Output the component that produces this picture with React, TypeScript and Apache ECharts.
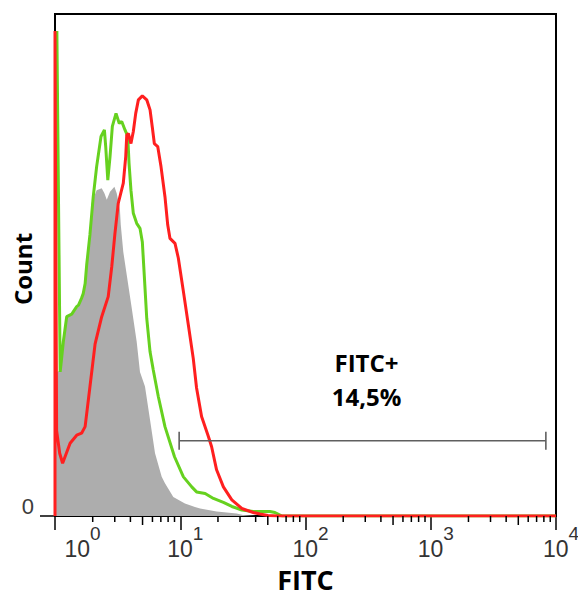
import React, { useEffect, useRef } from 'react';
import * as echarts from 'echarts';

// Axis ranges
const X_MIN = 1;
const X_MAX = 10000;
const Y_MIN = 0;
const Y_MAX = 1000;

// Tick definitions
const DECADES = [1, 10, 100, 1000];
const MINOR_MULTIPLIERS = [2, 3, 4, 5, 6, 7, 8, 9];
const Y_TICK_VALUES = [0];

// Histograms: [FITC intensity, count]
const UNSTAINED: [number, number][] = [
  [1.0, 285], [1.1, 290], [1.165, 345], [1.24, 395], [1.36, 400], [1.54, 418], [1.68, 440],
  [1.74, 460], [1.79, 495], [1.9, 560], [1.96, 623], [2.15, 649], [2.36, 653], [2.48, 643],
  [2.59, 630], [2.75, 646], [2.98, 656], [3.11, 643], [3.3, 610], [3.35, 580], [3.51, 526],
  [3.74, 480], [4.1, 414], [4.49, 347], [4.77, 287], [5.23, 258], [5.74, 191], [6.29, 125],
  [7.11, 78], [7.55, 65], [8.8, 38], [10.9, 25], [13.1, 18], [14.4, 15], [19.5, 9],
  [28.2, 5], [31.7, 2], [40, 0],
];

const GREEN_SAMPLE: [number, number][] = [
  [1.035, 966], [1.1, 287], [1.165, 347], [1.24, 397], [1.36, 402], [1.49, 417], [1.54, 420],
  [1.63, 434], [1.68, 443], [1.74, 463], [1.79, 500], [1.9, 560], [2.02, 636], [2.15, 696],
  [2.33, 756], [2.48, 769], [2.54, 736], [2.64, 669], [2.75, 716], [2.87, 776], [3.07, 802],
  [3.26, 782], [3.41, 786], [3.62, 769], [3.81, 756], [3.9, 703], [4.04, 649], [4.22, 603],
  [4.49, 583], [4.77, 573], [4.98, 546], [5.16, 480], [5.4, 394], [5.74, 327], [6.09, 291],
  [6.68, 238], [7.55, 178], [9.0, 118], [10.6, 78], [12.35, 58], [13.5, 48], [15.8, 45],
  [18.4, 35], [22.1, 27], [25.8, 19], [31.0, 12], [38.3, 9], [52, 9], [57, 7], [65, 0],
  [10000, 0],
];

const RED_SAMPLE: [number, number][] = [
  [1.0, 0], [1.0, 966], [1.03, 170], [1.09, 125], [1.15, 105], [1.32, 145], [1.49, 161],
  [1.63, 165], [1.74, 178], [1.9, 257], [2.09, 343], [2.36, 397], [2.66, 437], [2.84, 497],
  [3.01, 563], [3.2, 623], [3.51, 663], [3.67, 716], [3.74, 759], [3.85, 762], [4.04, 742],
  [4.22, 766], [4.41, 802], [4.63, 829], [4.98, 837], [5.4, 829], [5.74, 809], [5.98, 775],
  [6.21, 742], [6.61, 736], [7.02, 696], [7.55, 636], [7.94, 580], [8.28, 553], [9.08, 543],
  [9.65, 514], [10.6, 447], [11.6, 381], [12.7, 314], [13.5, 255], [14.8, 198], [16.8, 158],
  [17.8, 138], [19.5, 92], [22.1, 58], [25.8, 32], [31.0, 15], [38.3, 7], [43.3, 4], [50, 1],
  [60, 0], [10000, 0],
];

// Gate
const GATE_RANGE: [number, number] = [9.8, 8300];
const GATE_LEVEL = 150;
const GATE_LABEL_POS: [number, number] = [307, 271];
const GATE_LABEL_LINES = ['FITC+', '14,5%'];

const X_TITLE = 'FITC';
const Y_TITLE = 'Count';

const minorTickData = DECADES.flatMap((d) => MINOR_MULTIPLIERS.map((m) => [d * m, 0, m]));

export default function App() {
  const ref = useRef<HTMLDivElement>(null);

  useEffect(() => {
    const chart = echarts.init(ref.current!, null, { renderer: 'svg' });
    const titleFont = 'Open Sans';
    const tickFont = 'Liberation Sans';

    const option: any = {
      animation: false,
      backgroundColor: '#fff',
      grid: {
        left: 55,
        right: 22,
        top: 14,
        bottom: 83,
        show: true,
        borderColor: '#000',
        borderWidth: 2,
        backgroundColor: 'transparent',
        containLabel: false,
        outerBoundsMode: 'none',
      },
      xAxis: {
        type: 'log',
        logBase: 10,
        min: X_MIN,
        max: X_MAX,
        splitNumber: 4,
        name: X_TITLE,
        nameLocation: 'middle',
        nameGap: 53,
        nameMoveOverlap: false,
        nameTextStyle: { fontFamily: titleFont, fontWeight: 'bold', fontSize: 27, lineHeight: 21, color: '#000' },
        axisLine: { show: true, onZero: false, lineStyle: { color: '#000', width: 2 } },
        axisTick: { show: true, length: 14, lineStyle: { color: '#000', width: 1.5 } },
        splitLine: { show: false },
        minorTick: { show: false },
        axisLabel: {
          show: true,
          margin: 8,
          showMinLabel: true,
          showMaxLabel: true,
          hideOverlap: false,
          formatter: (v: number) => {
            const e = Math.round(Math.log10(v));
            const pad = e === 0 ? 'pad0' : 'pad';
            return `{${pad}| }{b|10}{s|${e}}`;
          },
          rich: {
            pad: { width: 10, lineHeight: 36, fontSize: 1 },
            pad0: { width: 55, lineHeight: 36, fontSize: 1 },
            b: { fontSize: 23, lineHeight: 19, verticalAlign: 'bottom', fontFamily: tickFont, color: '#333' },
            s: { fontSize: 19, lineHeight: 19, verticalAlign: 'top', fontFamily: tickFont, color: '#333' },
          },
        },
      },
      yAxis: {
        type: 'value',
        min: Y_MIN,
        max: Y_MAX,
        name: Y_TITLE,
        nameLocation: 'middle',
        nameGap: 21,
        nameMoveOverlap: false,
        nameTextStyle: { fontFamily: titleFont, fontWeight: 'bold', fontSize: 24, color: '#000', padding: [0, 8, 0, 0] },
        axisLine: { show: true, onZero: false, lineStyle: { color: '#000', width: 2 } },
        axisTick: { show: true, length: 15, customValues: Y_TICK_VALUES, lineStyle: { color: '#000', width: 1.5 } },
        splitLine: { show: false },
        axisLabel: {
          show: true,
          customValues: Y_TICK_VALUES,
          margin: 21,
          fontSize: 22,
          lineHeight: 19,
          verticalAlign: 'bottom',
          fontFamily: tickFont,
          color: '#3c3c3c',
        },
      },
      series: [
        {
          type: 'line',
          name: 'unstained',
          data: UNSTAINED,
          showSymbol: false,
          symbol: 'none',
          lineStyle: { width: 0, color: '#adadad' },
          areaStyle: { color: '#adadad', opacity: 1 },
          itemStyle: { color: '#adadad' },
          z: 2,
          silent: true,
        },
        {
          type: 'line',
          name: 'green',
          data: GREEN_SAMPLE,
          showSymbol: false,
          symbol: 'none',
          lineStyle: { width: 3, color: '#66d11f' },
          itemStyle: { color: '#66d11f' },
          z: 3,
          silent: true,
        },
        {
          type: 'line',
          name: 'red',
          data: RED_SAMPLE,
          showSymbol: false,
          symbol: 'none',
          lineStyle: { width: 3, color: '#ff1f1f' },
          itemStyle: { color: '#ff1f1f' },
          z: 4,
          silent: true,
        },
        {
          type: 'custom',
          name: 'minorTicks',
          coordinateSystem: 'cartesian2d',
          clip: false,
          silent: true,
          data: minorTickData,
          encode: { x: 0, y: 1 },
          renderItem: (params: any, api: any) => {
            const p = api.coord([api.value(0), Y_MIN]);
            const len = api.value(2) === 5 ? 9 : 6;
            return {
              type: 'line',
              shape: { x1: p[0], y1: p[1], x2: p[0], y2: p[1] + len },
              style: { stroke: '#000', lineWidth: 1.5 },
            };
          },
          z: 5,
        },
        {
          type: 'custom',
          name: 'gate',
          coordinateSystem: 'cartesian2d',
          clip: false,
          silent: true,
          data: [[GATE_RANGE[0], GATE_RANGE[1], GATE_LEVEL]],
          encode: { x: [0, 1], y: 2 },
          renderItem: (params: any, api: any) => {
            const a = api.coord([api.value(0), api.value(2)]);
            const b = api.coord([api.value(1), api.value(2)]);
            const h = 9;
            const st = { stroke: '#5f5f5f', lineWidth: 1.6 };
            return {
              type: 'group',
              children: [
                { type: 'line', shape: { x1: a[0], y1: a[1], x2: b[0], y2: b[1] }, style: st },
                { type: 'line', shape: { x1: a[0], y1: a[1] - h, x2: a[0], y2: a[1] + h }, style: st },
                { type: 'line', shape: { x1: b[0], y1: b[1] - h, x2: b[0], y2: b[1] + h }, style: st },
              ],
            };
          },
          z: 5,
        },
        {
          type: 'scatter',
          name: 'gateLabel',
          data: [GATE_LABEL_POS],
          symbolSize: 1,
          itemStyle: { color: 'rgba(0,0,0,0)' },
          silent: true,
          z: 6,
          label: {
            show: true,
            position: 'inside',
            formatter: GATE_LABEL_LINES.join('\n'),
            fontFamily: titleFont,
            fontWeight: 'bold',
            fontSize: 24,
            lineHeight: 34,
            color: '#000',
            opacity: 1,
            textBorderWidth: 0,
            align: 'center',
            verticalAlign: 'middle',
          },
        },
      ],
    };

    chart.setOption(option);
    return () => chart.dispose();
  }, []);

  return (
    <div
      ref={ref}
      style={{ position: 'fixed', left: 0, top: 0, width: 578, height: 599 }}
    />
  );
}
